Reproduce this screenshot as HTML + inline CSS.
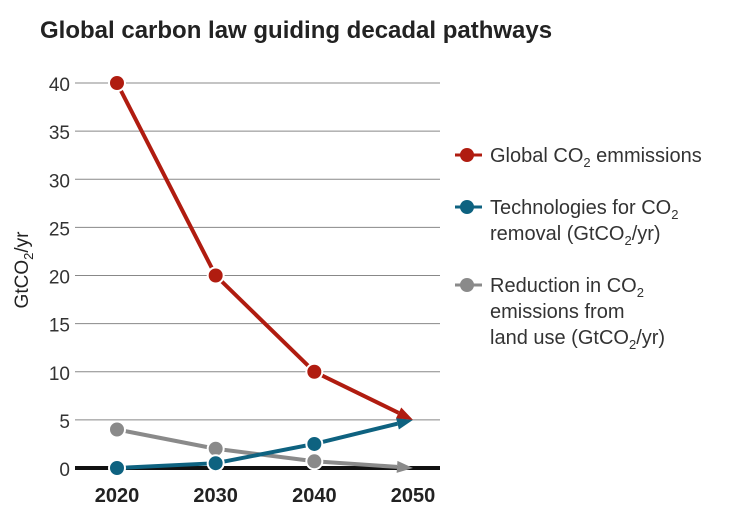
<!DOCTYPE html>
<html><head><meta charset="utf-8"><style>
body{margin:0;background:#fff;width:743px;height:526px;overflow:hidden;font-family:"Liberation Sans",sans-serif}
</style></head><body>
<svg width="743" height="526">
<text x="40" y="38" font-size="24" font-weight="bold" fill="#222">Global carbon law guiding decadal pathways</text>
<g id="grid"></g><g id="series"></g>
<text transform="translate(28,270) rotate(-90)" text-anchor="middle" font-size="19" fill="#222">GtCO<tspan font-size="13" dy="5">2</tspan><tspan dy="-5">/yr</tspan></text>
<g font-size="20" fill="#333">
<g><line x1="455" y1="155" x2="482" y2="155" stroke="#b01c10" stroke-width="3"/><circle cx="467" cy="155" r="7" fill="#b01c10"/><text x="490" y="162">Global CO<tspan font-size="13" dy="5">2</tspan><tspan dy="-5"> emmissions</tspan></text></g>
<g><line x1="455" y1="207" x2="482" y2="207" stroke="#0e6280" stroke-width="3"/><circle cx="467" cy="207" r="7" fill="#0e6280"/><text x="490" y="214">Technologies for CO<tspan font-size="13" dy="5">2</tspan></text><text x="490" y="240">removal (GtCO<tspan font-size="13" dy="5">2</tspan><tspan dy="-5">/yr)</tspan></text></g>
<g><line x1="455" y1="285" x2="482" y2="285" stroke="#8a8a8a" stroke-width="3"/><circle cx="467" cy="285" r="7" fill="#8a8a8a"/><text x="490" y="292">Reduction in CO<tspan font-size="13" dy="5">2</tspan></text><text x="490" y="318">emissions from</text><text x="490" y="344">land use (GtCO<tspan font-size="13" dy="5">2</tspan><tspan dy="-5">/yr)</tspan></text></g>
</g>
</svg>
<script>
const years=[2020,2030,2040,2050];
const yTicks=[0,5,10,15,20,25,30,35,40];
const emissions=[40,20,10,5];
const removal=[0,0.5,2.5,5];
const landUse=[4,2,0.7,0];
const NS="http://www.w3.org/2000/svg";
const xs=y=>117+(y-2020)/30*296;
const ys=v=>468-v*(385/40);
function mk(t,a,p){const e=document.createElementNS(NS,t);for(const k in a)e.setAttribute(k,a[k]);p.appendChild(e);return e;}
const grid=document.getElementById('grid');
yTicks.forEach(v=>{
  if(v>0){const l=mk('line',{x1:75,x2:440,y1:ys(v),y2:ys(v),stroke:'#888','stroke-width':1},grid);
  
  }
  const t=mk('text',{x:70,y:ys(v)+8,'text-anchor':'end','font-size':19,fill:'#333'},grid);t.textContent=v;
  
  
});
const base=mk('line',{x1:75,x2:440,y1:ys(0),y2:ys(0),stroke:'#111','stroke-width':4},grid);


years.forEach(y=>{const t=mk('text',{x:xs(y),y:502,'text-anchor':'middle','font-size':20,'font-weight':'bold',fill:'#222'},grid);t.textContent=y;
  
  });
const sg=document.getElementById('series');
function series(vals,col,name){
  const g=mk('g',{},sg);
  
  
  const n=vals.length;
  for(let i=0;i<n-1;i++){
    const x1=xs(years[i]),y1=ys(vals[i]),x2=xs(years[i+1]),y2=ys(vals[i+1]);
    if(i<n-2){mk('line',{x1,y1,x2,y2,stroke:col,'stroke-width':4},g);}
    else{
      const a=Math.atan2(y2-y1,x2-x1),L=16,W=6;
      const bx=x2-L*Math.cos(a),by=y2-L*Math.sin(a);
      mk('line',{x1,y1,x2:bx,y2:by,stroke:col,'stroke-width':4},g);
      const p=[[x2,y2],[bx-W*Math.sin(a),by+W*Math.cos(a)],[bx+W*Math.sin(a),by-W*Math.cos(a)]];
      const ar=mk('polygon',{points:p.map(q=>q.join(',')).join(' '),fill:col},g);
      
      
    }
  }
  for(let i=0;i<n-1;i++){
    const c=mk('circle',{cx:xs(years[i]),cy:ys(vals[i]),r:8,fill:col,stroke:'#fff','stroke-width':2},g);
    
    
  }
}
series(landUse,'#8a8a8a','land-use-series');
series(removal,'#0e6280','removal-series');
series(emissions,'#b01c10','emissions-series');
</script>
</body></html>
